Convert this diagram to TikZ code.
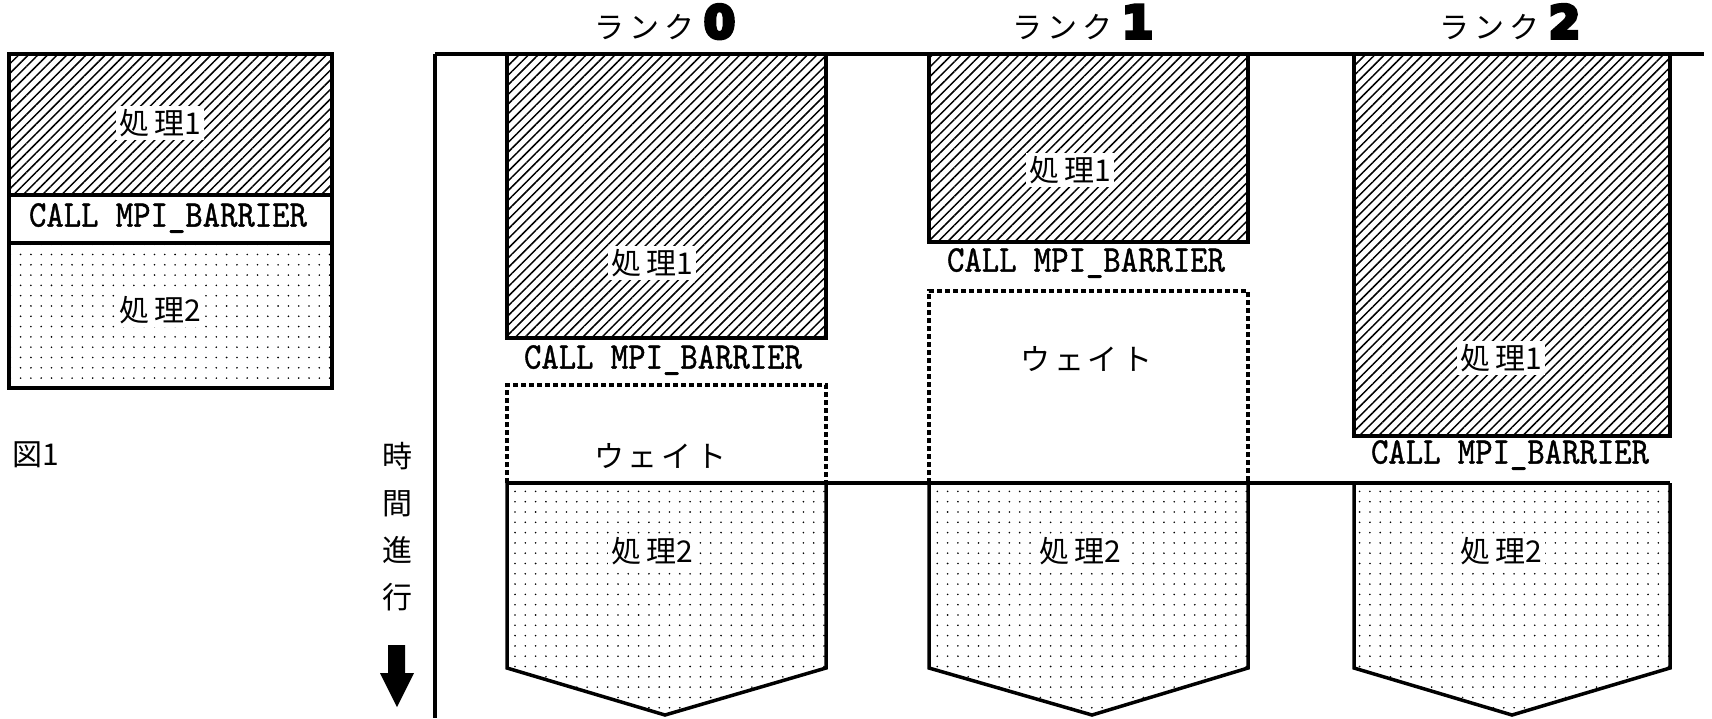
\documentclass[tikz,border=0pt]{standalone}
\usepackage{fontspec}
\usetikzlibrary{patterns.meta}
\newfontfamily\jp{Noto Sans CJK JP}
\newfontfamily\monof[FakeStretch=0.88,FakeBold=1]{lmmono10-regular.otf}
\newfontfamily\heavy[FakeBold=8]{DejaVu Sans}
\newcommand\rk[1]{ラ\hspace{5pt}ン\hspace{5pt}ク\hspace{9pt}{\heavy\bfseries\fontsize{45}{45}\selectfont #1}}
\tikzset{
  hatch/.style={pattern={Lines[angle=45,distance=6.8pt,line width=1.5pt]}},
  dotfill/.style={pattern={Dots[distance=10.3pt,radius=0.9pt]}},
  box/.style={draw, line width=3.5pt, line join=miter},
  waitline/.style={line width=3.5pt, dash pattern=on 5pt off 3pt},
  lbl/.style={font=\jp\fontsize{30}{36}\selectfont, fill=white, inner sep=3pt},
  plain/.style={font=\jp\fontsize{30}{36}\selectfont, inner sep=1pt},
  call/.style={font=\monof\fontsize{37.6}{40}\selectfont, inner sep=1pt},
}
\begin{document}
\begin{tikzpicture}[x=1pt,y=-1pt]
\useasboundingbox (0,0) rectangle (1712,718);
% ---- left figure
\path[hatch] (9,54) rectangle (332,195);
\path[dotfill] (9,243) rectangle (332,388);
\draw[box] (9,54) rectangle (332,388);
\draw[box] (9,195) -- (332,195) (9,243) -- (332,243);
\node[lbl] (lp1) at (160,123) {処\hspace{5pt}理1};
\node[call] (lcall) at (168,218) {CALL MPI\_BARRIER};
\node[lbl] (lp2) at (160,310) {処\hspace{5pt}理2};
\node[plain] (fig) at (36,455) {図1};
% ---- axes
\draw[box] (435,54) -- (1704,54);
\draw[box] (435,54) -- (435,718);
\node[plain, align=center, font=\jp\fontsize{30}{47}\selectfont] (time) at (397,527) {時\\間\\進\\行};
\fill (388,645) -- (405,645) -- (405,673) -- (414,673) -- (397,707) -- (380,673) -- (388,673) -- cycle;
% ---- rank labels
\node[plain, anchor=base] (r0) at (665,38) {\rk{0}};
\node[plain, anchor=base] (r1) at (1083,38) {\rk{1}};
\node[plain, anchor=base] (r2) at (1510,38) {\rk{2}};
% ---- rank 0
\path[hatch] (507,54) rectangle (826,338);
\draw[box] (507,54) -- (507,338) -- (826,338) -- (826,54);
\node[lbl] (a1) at (652,263) {処\hspace{5pt}理1};
\node[call] (acall) at (663,360) {CALL MPI\_BARRIER};
\draw[waitline] (507,483) -- (507,385) -- (826,385) -- (826,483);
\node[plain] (await) at (660,456) {ウ\hspace{4pt}ェ\hspace{4pt}イ\hspace{4pt}ト};
\path[dotfill] (507,483) -- (507,668) -- (665,715) -- (826,668) -- (826,483) -- cycle;
\draw[box] (507,483) -- (507,668) -- (665,715) -- (826,668) -- (826,483);
\node[lbl] (a2) at (652,551) {処\hspace{5pt}理2};
% ---- rank 1
\path[hatch] (929,54) rectangle (1248,242);
\draw[box] (929,54) -- (929,242) -- (1248,242) -- (1248,54);
\node[lbl] (b1) at (1070,170) {処\hspace{5pt}理1};
\node[call] (bcall) at (1086,263) {CALL MPI\_BARRIER};
\draw[waitline] (929,483) -- (929,291) -- (1248,291) -- (1248,483);
\node[plain] (bwait) at (1086,359) {ウ\hspace{4pt}ェ\hspace{4pt}イ\hspace{4pt}ト};
\path[dotfill] (929,483) -- (929,668) -- (1092,715) -- (1248,668) -- (1248,483) -- cycle;
\draw[box] (929,483) -- (929,668) -- (1092,715) -- (1248,668) -- (1248,483);
\node[lbl] (b2) at (1080,551) {処\hspace{5pt}理2};
% ---- rank 2
\path[hatch] (1354,54) rectangle (1670,436);
\draw[box] (1354,54) -- (1354,436) -- (1670,436) -- (1670,54);
\node[lbl] (c1) at (1501,358) {処\hspace{5pt}理1};
\node[call] (ccall) at (1510,455) {CALL MPI\_BARRIER};
\path[dotfill] (1354,483) -- (1354,668) -- (1512,715) -- (1670,668) -- (1670,483) -- cycle;
\draw[box] (1354,483) -- (1354,668) -- (1512,715) -- (1670,668) -- (1670,483);
\node[lbl] (c2) at (1501,551) {処\hspace{5pt}理2};
% ---- barrier line
\draw[box] (507,483) -- (1670,483);
\end{tikzpicture}
\end{document}
